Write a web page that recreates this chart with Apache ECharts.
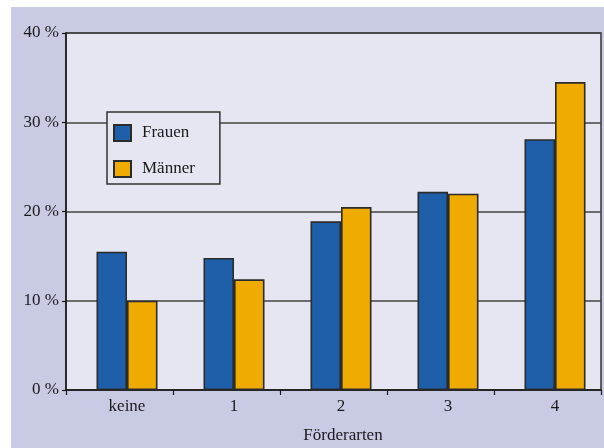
<!DOCTYPE html>
<html>
<head>
<meta charset="utf-8">
<script src="https://cdn.jsdelivr.net/npm/echarts@6/dist/echarts.min.js"></script>
<style>
  html, body { margin: 0; padding: 0; background: #ffffff; width: 604px; height: 448px; overflow: hidden; }
  #chart { position: absolute; left: 11px; top: 7px; width: 593px; height: 441px; }
</style>
</head>
<body>
<div id="chart"></div>
<script>
// Anteile nach Förderarten, getrennt nach Geschlecht (in %)
var categories = ['keine', '1', '2', '3', '4'];
var frauen = [15.5, 14.8, 18.9, 22.2, 28.1];
var maenner = [10.0, 12.4, 20.5, 22.0, 34.5];
var yTicks = { min: 0, max: 40, interval: 10 };

var FONT = '"Liberation Serif", "DejaVu Serif", serif';
var INK = '#1a1a1a';
var EDGE = '#2b2b2b';

var chart = echarts.init(document.getElementById('chart'), null, { renderer: 'canvas' });

chart.setOption({
  backgroundColor: '#c9cbe5',
  animation: false,
  textStyle: { fontFamily: FONT },
  grid: [
    // frame: background, border, grid lines, ticks
    {
      left: 55, top: 26, width: 535, height: 357,
      outerBoundsMode: 'none',
      show: true,
      backgroundColor: '#e6e5f2',
      borderColor: '#333333',
      borderWidth: 1.5
    },
    // bars and category labels sit slightly right of the tick cells
    {
      left: 62.5, top: 26, width: 535, height: 357,
      outerBoundsMode: 'none'
    }
  ],
  legend: {
    orient: 'vertical',
    left: 96, top: 105,
    data: ['Frauen', 'Männer'],
    icon: 'rect',
    itemWidth: 17, itemHeight: 16,
    itemGap: 18,
    padding: [12, 25, 6, 6],
    backgroundColor: '#e6e5f2',
    borderColor: '#333333',
    borderWidth: 1.5,
    textStyle: { fontFamily: FONT, fontSize: 17, color: INK, padding: [0, 0, 0, 6] }
  },
  xAxis: [
    {
      type: 'category', gridIndex: 0,
      data: categories,
      axisLine: { lineStyle: { color: INK, width: 1.5 } },
      axisTick: { show: true, length: 5, lineStyle: { color: INK, width: 1.2 } },
      axisLabel: { show: false }
    },
    {
      type: 'category', gridIndex: 1,
      data: categories,
      name: 'Förderarten',
      nameLocation: 'middle',
      nameGap: 37,
      nameTextStyle: { fontFamily: FONT, fontSize: 17, color: INK, padding: [0, 0, 0, 4] },
      axisLine: { show: false },
      axisTick: { show: false },
      axisLabel: { fontFamily: FONT, fontSize: 17, color: INK, margin: 8 }
    }
  ],
  yAxis: [
    {
      type: 'value', gridIndex: 0,
      min: yTicks.min, max: yTicks.max, interval: yTicks.interval,
      axisLine: { show: true, lineStyle: { color: INK, width: 1.5 } },
      axisTick: { show: true, length: 4, lineStyle: { color: INK, width: 1.2 } },
      axisLabel: { fontFamily: FONT, fontSize: 17, color: INK, margin: 7, formatter: '{value} %' },
      splitLine: { show: true, lineStyle: { color: '#444444', width: 1.5 } }
    },
    {
      type: 'value', gridIndex: 1,
      min: yTicks.min, max: yTicks.max, interval: yTicks.interval,
      show: false,
      splitLine: { show: false }
    }
  ],
  series: [
    {
      name: 'Frauen', type: 'bar', data: frauen,
      xAxisIndex: 1, yAxisIndex: 1,
      barWidth: 30.5, barGap: '0%',
      itemStyle: { color: '#1f5ea8', borderColor: EDGE, borderWidth: 1.6 }
    },
    {
      name: 'Männer', type: 'bar', data: maenner,
      xAxisIndex: 1, yAxisIndex: 1,
      barWidth: 30.5, barGap: '0%',
      itemStyle: { color: '#f0ab00', borderColor: EDGE, borderWidth: 1.6 }
    }
  ]
});
</script>
</body>
</html>
